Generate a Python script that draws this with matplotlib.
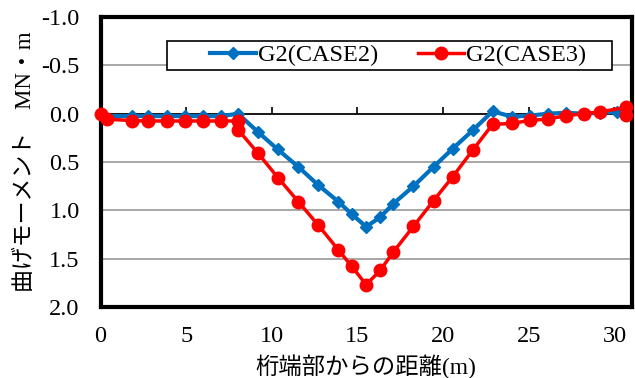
import matplotlib
matplotlib.use("Agg")
import matplotlib.pyplot as plt
from matplotlib.markers import TICKUP
from matplotlib.patches import Rectangle

plt.rcParams['font.family'] = ['Liberation Serif', 'Noto Sans CJK JP']
plt.rcParams['axes.unicode_minus'] = False

# data (distance m, moment MN*m)
x_case2 = [0, 0.15, 1.82, 2.79, 3.88, 4.94, 5.99, 7.04, 8.03, 9.2, 10.35, 11.55,
           12.72, 13.89, 14.67, 15.51, 16.33, 17.1, 18.27, 19.44, 20.57, 21.74,
           22.89, 24.02, 25.05, 26.1, 27.19, 28.2, 29.18, 30.15, 30.7]
m_case2 = [0.0, 0.025, 0.025, 0.025, 0.025, 0.025, 0.025, 0.025, 0.0, 0.19, 0.37, 0.55,
           0.74, 0.91, 1.04, 1.17, 1.07, 0.93, 0.75, 0.55, 0.36, 0.17,
           -0.025, 0.03, 0.02, 0.0, -0.01, 0.0, -0.01, -0.02, 0.0]

x_case3 = [0, 0.35, 1.82, 2.79, 3.88, 4.94, 5.99, 7.04, 8.03, 8.03, 9.2, 10.35, 11.55,
           12.72, 13.89, 14.67, 15.51, 16.33, 17.1, 18.27, 19.44, 20.57, 21.74,
           22.89, 24.02, 25.05, 26.1, 27.19, 28.2, 29.18, 30.7, 30.7]
m_case3 = [0.0, 0.055, 0.072, 0.075, 0.075, 0.075, 0.075, 0.075, 0.075, 0.165, 0.41, 0.66, 0.91,
           1.155, 1.41, 1.58, 1.77, 1.62, 1.43, 1.165, 0.90, 0.65, 0.375,
           0.11, 0.10, 0.07, 0.055, 0.02, 0.0, -0.02, -0.065, 0.01]

xticks = [0, 5, 10, 15, 20, 25, 30]
yticks = [-1.0, -0.5, 0.0, 0.5, 1.0, 1.5, 2.0]

fig = plt.figure(figsize=(6.35, 3.78), dpi=100)
ax = fig.add_axes([0.1583, 0.1878, 0.8362, 0.767])

ax.set_xlim(0, 31)
ax.set_ylim(2.0, -1.0)
ax.set_xticks(xticks)
ax.set_yticks(yticks)
ax.set_yticklabels([f"{v:.1f}" for v in yticks])
ax.tick_params(axis='both', length=0, labelsize=17.5)
ax.tick_params(axis='y', pad=15)
ax.tick_params(axis='x', pad=14)
for s in ax.spines.values():
    s.set_linewidth(3)
    s.set_color('black')

ax.grid(axis='y', color='#a0a0a0', linewidth=1.3)
ax.set_axisbelow(True)

# zero line with upward ticks
ax.axhline(0, color='black', linewidth=1.2, zorder=1.5)
ax.plot(xticks, [0] * len(xticks), ls='none', marker=TICKUP, markersize=5,
        markeredgewidth=1.2, color='black', zorder=1.5, clip_on=False)

ax.plot(x_case2, m_case2, color='#0070c0', lw=3, marker='D', markersize=6,
        label='G2(CASE2)', zorder=3)
ax.plot(x_case3, m_case3, color='#ff0000', lw=2.5, marker='o', markersize=9,
        label='G2(CASE3)', zorder=4, clip_on=False)

ax.set_xlabel('桁端部からの距離(m)', fontsize=16.8, labelpad=5)
ax.set_ylabel('曲げモーメント\u3000MN・m', fontsize=16.5, labelpad=4)

# legend box drawn separately, entries centred inside it
box = Rectangle((167 / 635, 1 - 70 / 378), 445 / 635, 29.5 / 378,
                transform=fig.transFigure, facecolor='white', edgecolor='black',
                linewidth=1.2, zorder=5)
fig.add_artist(box)
leg = fig.legend(*ax.get_legend_handles_labels(), ncol=2, loc='center',
                 bbox_to_anchor=(398 / 635, 1 - 55.5 / 378),
                 fontsize=17.5, frameon=False, handlelength=1.9,
                 handletextpad=0.1, columnspacing=1.6, borderpad=0)
leg.set_zorder(6)

fig.savefig("out.png", dpi=100)
